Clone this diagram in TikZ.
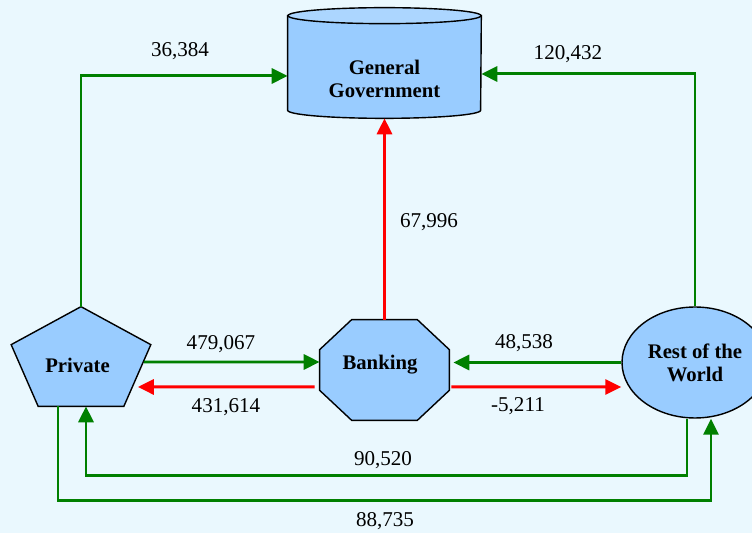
\documentclass[tikz,border=0pt]{standalone}
\usepackage{fontspec}
\setmainfont{LiberationSerif}[Extension=.ttf, UprightFont=*-Regular, BoldFont=*-Bold]
\usetikzlibrary{arrows.meta,backgrounds,shapes.geometric}
\definecolor{paleback}{RGB}{234,248,254}
\definecolor{sectorblue}{RGB}{153,204,255}
\definecolor{lidblue}{RGB}{172,214,255}
\definecolor{flowgreen}{RGB}{0,128,0}
\definecolor{flowred}{RGB}{255,0,0}
\tikzset{
  sector/.style={inner sep=0pt, align=center,
                 font=\bfseries\fontsize{11.8}{13}\selectfont},
  holder/.style={sector, minimum width=#1},
  outline/.style={draw=black, line width=0.8pt, fill=sectorblue},
  greenflow/.style={-{Triangle[length=3.2mm,width=3mm]}, draw=flowgreen,
                    line width=1.7pt},
  redflow/.style={greenflow, draw=flowred},
  amount/.style={inner sep=1pt, font=\fontsize{12}{14}\selectfont}
}

\begin{document}
\begin{tikzpicture}[x=0.02cm, y=0.02cm]
  \useasboundingbox (0,0) rectangle (752,-533);
  % sectors
  \node[holder=3.86cm, minimum height=2.2cm,
        label={[sector, yshift=-0.31cm]center:General\\Government}] (gov) at (384.5,-63) {};
  \node[holder=2.78cm, minimum height=1.98cm,
        label={[sector, xshift=-0.07cm, yshift=-0.17cm]center:Private}] (priv) at (81,-356.5) {};
  \node[holder=2.58cm, minimum height=2cm,
        label={[sector, xshift=-0.09cm, yshift=0.1cm]center:Banking}] (bank) at (384.5,-370) {};
  \node[ellipse, outline, sector, minimum width=2.92cm, minimum height=2.22cm] (rest) at (695,-362.5) {Rest of the\\World};

  \begin{scope}[on background layer]
    \fill[paleback] (0,0) rectangle (752,-533);
    \draw[outline] ([yshift=-0.16cm]gov.north west) -- ([yshift=0.16cm]gov.south west)
      arc[start angle=180, end angle=360, x radius=1.93cm, y radius=0.16cm]
      -- ([yshift=-0.16cm]gov.north east) -- cycle;
    \draw[outline, fill=lidblue] ([yshift=-0.16cm]gov.north) ellipse[x radius=1.93cm, y radius=0.16cm];
    \draw[outline] (priv.north) -- ([yshift=-0.76cm]priv.north east)
      -- ([xshift=-0.54cm]priv.south east) -- ([xshift=0.54cm]priv.south west)
      -- ([yshift=-0.76cm]priv.north west) -- cycle;
    \draw[outline] ([xshift=0.64cm]bank.north west) -- ([xshift=-0.64cm]bank.north east)
      -- ([yshift=-0.6cm]bank.north east) -- ([yshift=0.6cm]bank.south east)
      -- ([xshift=-0.64cm]bank.south east) -- ([xshift=0.64cm]bank.south west)
      -- ([yshift=0.6cm]bank.south west) -- ([yshift=-0.6cm]bank.north west) -- cycle;
  \end{scope}

  % flows
  \draw[greenflow] (priv.north) |- ([yshift=-0.26cm]gov.west);
  \draw[greenflow] (rest.north) |- ([yshift=-0.22cm]gov.east);
  \draw[redflow] (bank.north) -- (gov.south);
  \draw[greenflow] ([xshift=-0.14cm,yshift=-0.11cm]priv.east) -- ([yshift=0.16cm]bank.west);
  \draw[redflow] ([xshift=-0.1cm,yshift=-0.34cm]bank.west) -- ([xshift=-0.26cm,yshift=-0.61cm]priv.east);
  \draw[greenflow] (rest.west) -- ([xshift=0.08cm]bank.east |- rest.west);
  \draw[redflow] ([xshift=0.04cm,yshift=-0.34cm]bank.east) -- ([yshift=-0.49cm]rest.west);
  \draw[greenflow] ([xshift=-0.16cm]rest.south) -- ++(0,-57) -| ([xshift=0.1cm]priv.south);
  \draw[greenflow] ([xshift=-0.46cm]priv.south) -- ++(0,-94) -| ([xshift=0.32cm]rest.south);

  % amounts
  \node[amount] (vpg) at (180,-51) {36,384};
  \node[amount] (vrg) at (568,-54) {120,432};
  \node[amount] (vbg) at (429,-222) {67,996};
  \node[amount] (vpb) at (221,-344) {479,067};
  \node[amount] (vbp) at (226,-407) {431,614};
  \node[amount] (vrb) at (524,-343) {48,538};
  \node[amount] (vbr) at (518,-406) {-5,211};
  \node[amount] (vrp) at (383,-460) {90,520};
  \node[amount] (vpr) at (385,-521) {88,735};
\end{tikzpicture}
\end{document}
